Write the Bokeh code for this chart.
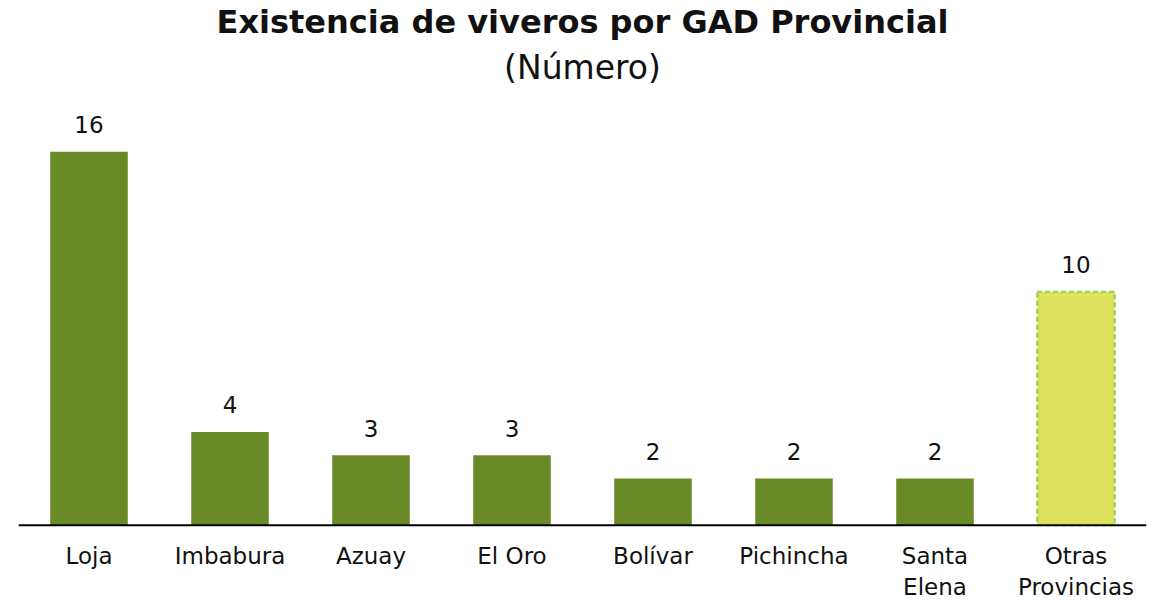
from bokeh.plotting import figure
from bokeh.models import Range1d, Title, ColumnDataSource, Span
from bokeh.core.properties import value
from bokeh.embed import file_html
from bokeh.resources import INLINE

categories = ["Loja", "Imbabura", "Azuay", "El Oro", "Bolívar", "Pichincha", "Santa Elena", "Otras Provincias"]
tick_labels = ["Loja", "Imbabura", "Azuay", "El Oro", "Bolívar", "Pichincha", "Santa\nElena", "Otras\nProvincias"]
values = [16, 4, 3, 3, 2, 2, 2, 10]
highlight = [False, False, False, False, False, False, False, True]

FONT = "DejaVu Sans"
GREEN = "#688A27"
YELLOW = "#DCE05A"
EDGE = "#92D050"

p = figure(x_range=categories, width=1153, height=606, output_backend="svg",
           toolbar_location=None, min_border_left=18, min_border_right=7,
           min_border_top=0, min_border_bottom=0)
p.y_range = Range1d(-3.48, 18.58)

sub = Title(text="(Número)", align="center", text_font=FONT, text_font_size="33px",
            text_font_style="normal", text_color="#111111", standoff=10)
main = Title(text="Existencia de viveros por GAD Provincial", align="center", text_font=FONT,
             text_font_size="32px", text_font_style="bold", text_color="#111111", standoff=0)
p.add_layout(sub, "above")
p.add_layout(main, "above")

main_src = ColumnDataSource(dict(
    x=[c for c, h in zip(categories, highlight) if not h],
    top=[v for v, h in zip(values, highlight) if not h]))
hi_src = ColumnDataSource(dict(
    x=[c for c, h in zip(categories, highlight) if h],
    top=[v for v, h in zip(values, highlight) if h]))

p.vbar(x="x", top="top", width=0.55, source=main_src, fill_color=GREEN, line_color=None)
p.vbar(x="x", top="top", width=0.55, source=hi_src, fill_color=YELLOW, line_color=EDGE,
       line_width=2, line_dash="5 3")

p.add_layout(Span(location=0, dimension="width", line_color="#000000", line_width=2))

lab_src = ColumnDataSource(dict(x=categories, y=values, t=[str(v) for v in values]))
p.text(x="x", y="y", text="t", source=lab_src, text_align="center", text_baseline="alphabetic",
       y_offset=-27, text_font=value(FONT), text_font_size="23px", text_color="#111111")

cat_src = ColumnDataSource(dict(x=categories, y=[0] * len(categories), t=tick_labels))
p.text(x="x", y="y", text="t", source=cat_src, text_align="center", text_baseline="top",
       y_offset=18, text_font=value(FONT), text_font_size="23px", text_color="#111111",
       text_line_height=1.2)

p.xaxis.visible = False
p.yaxis.visible = False
p.grid.visible = False
p.outline_line_color = None
p.x_range.range_padding = 0
p.background_fill_color = "#FFFFFF"
p.border_fill_color = "#FFFFFF"

open("out.html", "w").write(file_html(p, INLINE))
